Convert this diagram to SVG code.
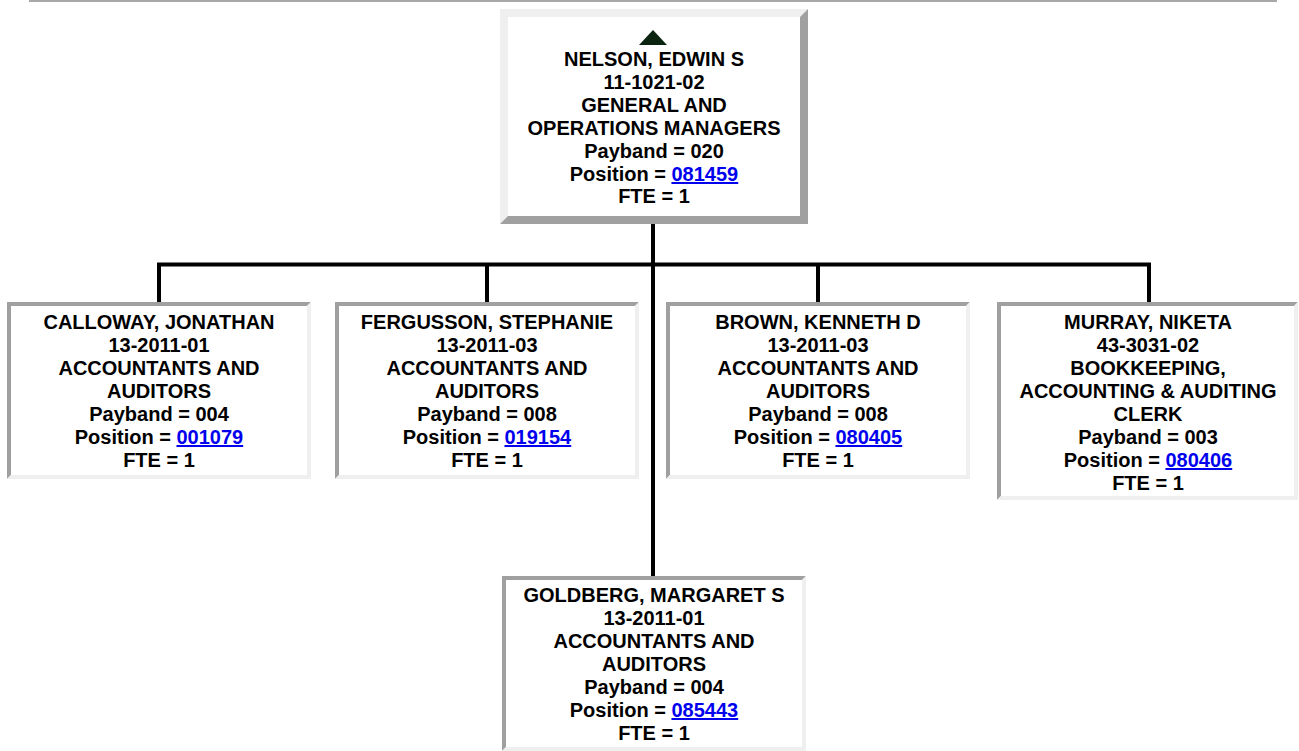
<svg xmlns="http://www.w3.org/2000/svg" width="1299" height="751" viewBox="0 0 1299 751">
<style>
.t{font-family:"Liberation Sans",Arial,sans-serif;font-weight:bold;font-size:20px;fill:#000;text-anchor:middle}
.lk{fill:#0000ee;text-decoration:underline}
.dk{fill:#a0a0a0}
.lt{fill:#efefef}
.bg{fill:#fff}
.cn{stroke:#000;stroke-width:4;fill:none}
</style>
<rect x="29" y="0" width="1248" height="2" fill="#a8a8a8"/>
<g id="connectors">
<line class="cn" x1="653" y1="224" x2="653" y2="576"/>
<line class="cn" x1="157" y1="264.5" x2="1151" y2="264.5"/>
<line class="cn" x1="159" y1="264" x2="159" y2="302"/>
<line class="cn" x1="487" y1="264" x2="487" y2="302"/>
<line class="cn" x1="818" y1="264" x2="818" y2="302"/>
<line class="cn" x1="1149" y1="264" x2="1149" y2="302"/>
</g>
<g id="nelson">
<rect class="bg" x="500" y="9" width="308" height="215"/>
<polygon class="lt" points="500,9 808,9 800,17 508,17 508,216 500,224"/>
<polygon class="dk" points="808,9 808,224 500,224 508,216 800,216 800,17"/>
<polygon points="639,45 653,30 667,45" fill="#0b2410"/>
<text class="t" x="654" y="66">NELSON, EDWIN S</text>
<text class="t" x="654" y="89">11-1021-02</text>
<text class="t" x="654" y="112">GENERAL AND</text>
<text class="t" x="654" y="135">OPERATIONS MANAGERS</text>
<text class="t" x="654" y="158">Payband = 020</text>
<text class="t" x="654" y="181">Position = <tspan class="lk">081459</tspan></text>
<text class="t" x="654" y="203">FTE = 1</text>
</g>
<g id="calloway">
<rect class="bg" x="7" y="302" width="304" height="177"/>
<polygon class="dk" points="7,302 311,302 307,306 11,306 11,475 7,479"/>
<polygon class="lt" points="311,302 311,479 7,479 11,475 307,475 307,306"/>
<text class="t" x="159" y="329">CALLOWAY, JONATHAN</text>
<text class="t" x="159" y="352">13-2011-01</text>
<text class="t" x="159" y="375">ACCOUNTANTS AND</text>
<text class="t" x="159" y="398">AUDITORS</text>
<text class="t" x="159" y="421">Payband = 004</text>
<text class="t" x="159" y="444">Position = <tspan class="lk">001079</tspan></text>
<text class="t" x="159" y="467">FTE = 1</text>
</g>
<g id="fergusson">
<rect class="bg" x="335" y="302" width="304" height="177"/>
<polygon class="dk" points="335,302 639,302 635,306 339,306 339,475 335,479"/>
<polygon class="lt" points="639,302 639,479 335,479 339,475 635,475 635,306"/>
<text class="t" x="487" y="329">FERGUSSON, STEPHANIE</text>
<text class="t" x="487" y="352">13-2011-03</text>
<text class="t" x="487" y="375">ACCOUNTANTS AND</text>
<text class="t" x="487" y="398">AUDITORS</text>
<text class="t" x="487" y="421">Payband = 008</text>
<text class="t" x="487" y="444">Position = <tspan class="lk">019154</tspan></text>
<text class="t" x="487" y="467">FTE = 1</text>
</g>
<g id="brown">
<rect class="bg" x="666" y="302" width="304" height="177"/>
<polygon class="dk" points="666,302 970,302 966,306 670,306 670,475 666,479"/>
<polygon class="lt" points="970,302 970,479 666,479 670,475 966,475 966,306"/>
<text class="t" x="818" y="329">BROWN, KENNETH D</text>
<text class="t" x="818" y="352">13-2011-03</text>
<text class="t" x="818" y="375">ACCOUNTANTS AND</text>
<text class="t" x="818" y="398">AUDITORS</text>
<text class="t" x="818" y="421">Payband = 008</text>
<text class="t" x="818" y="444">Position = <tspan class="lk">080405</tspan></text>
<text class="t" x="818" y="467">FTE = 1</text>
</g>
<g id="murray">
<rect class="bg" x="997" y="302" width="301" height="198"/>
<polygon class="dk" points="997,302 1298,302 1294,306 1001,306 1001,496 997,500"/>
<polygon class="lt" points="1298,302 1298,500 997,500 1001,496 1294,496 1294,306"/>
<text class="t" x="1148" y="329">MURRAY, NIKETA</text>
<text class="t" x="1148" y="352">43-3031-02</text>
<text class="t" x="1148" y="375">BOOKKEEPING,</text>
<text class="t" x="1148" y="398">ACCOUNTING &amp; AUDITING</text>
<text class="t" x="1148" y="421">CLERK</text>
<text class="t" x="1148" y="444">Payband = 003</text>
<text class="t" x="1148" y="467">Position = <tspan class="lk">080406</tspan></text>
<text class="t" x="1148" y="490">FTE = 1</text>
</g>
<g id="goldberg">
<rect class="bg" x="502" y="576" width="304" height="175"/>
<polygon class="dk" points="502,576 806,576 802,580 506,580 506,747 502,751"/>
<polygon class="lt" points="806,576 806,751 502,751 506,747 802,747 802,580"/>
<text class="t" x="654" y="602">GOLDBERG, MARGARET S</text>
<text class="t" x="654" y="625">13-2011-01</text>
<text class="t" x="654" y="648">ACCOUNTANTS AND</text>
<text class="t" x="654" y="671">AUDITORS</text>
<text class="t" x="654" y="694">Payband = 004</text>
<text class="t" x="654" y="717">Position = <tspan class="lk">085443</tspan></text>
<text class="t" x="654" y="740">FTE = 1</text>
</g>
</svg>
